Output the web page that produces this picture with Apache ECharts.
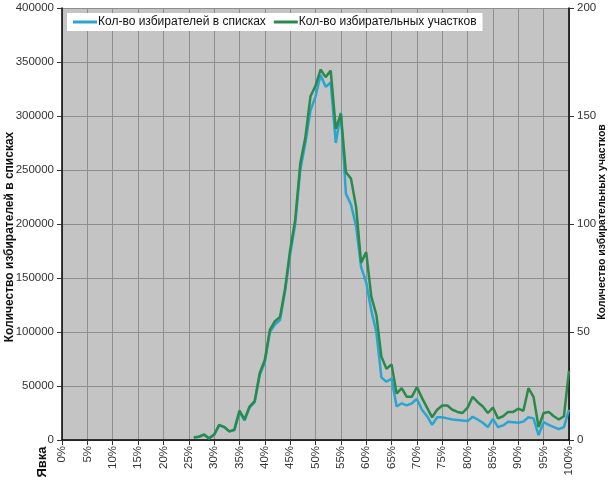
<!DOCTYPE html>
<html>
<head>
<meta charset="utf-8">
<script src="https://cdn.jsdelivr.net/npm/echarts@6/dist/echarts.min.js"></script>
<style>html,body{margin:0;padding:0;background:#fff}#c{width:609px;height:481px}</style>
</head>
<body>
<div id="c"></div>
<script>
// Turnout categories 0%..100%
const categories = [];
for (let i = 0; i <= 100; i++) categories.push(i + '%');

// Voters on lists (left axis), from 26% turnout upward
const votersStart = 26;
const voters = [
  2500, 3000, 5000, 1500, 4600, 13500, 12000, 8000, 9000, 26000,
  18000, 30000, 35000, 60000, 72000, 100000, 107000, 111000, 138000, 172000,
  200000, 250000, 275000, 305000, 318000, 338000, 327000, 331000, 275000, 303000,
  228000, 218000, 198000, 160000, 146000, 120000, 100000, 58000, 54000, 57000,
  31000, 34000, 32000, 34000, 38000, 28000, 22000, 14000, 21000, 21000,
  20000, 19000, 18500, 18000, 17500, 21500, 19000, 16000, 12000, 19500,
  12000, 13500, 17000, 16500, 16000, 17000, 21000, 20000, 4500, 16500,
  14000, 12000, 10000, 12000, 28000
];
// Polling stations (right axis)
const stations = [
  1.2, 1.5, 2.5, 0.8, 2.5, 7, 6, 4, 4.8, 13.6,
  9.5, 15.5, 18, 31, 37, 51, 55, 57, 70, 88,
  102, 128, 140, 159, 164, 171.5, 168, 171, 144, 151,
  124, 121, 108, 82, 87, 66.5, 58, 38.5, 33, 35,
  21.5, 24, 20, 20, 24.5, 19.5, 15, 10.5, 14, 16,
  16, 14, 13, 12.5, 15, 20, 17.5, 15.5, 12.5, 15,
  10, 11, 13, 13, 14.5, 13.5, 24, 20, 6, 12.5,
  13, 11, 9.5, 11, 32
];
const seriesNames = ['Кол-во избирателей в списках', 'Кол-во избирательных участков'];
const leftTitle = 'Количество избирателей в списках';
const rightTitle = 'Количество избирательных участков';
const xTitle = 'Явка';

function pad(arr, start) {
  const out = [];
  for (let i = 0; i < start; i++) out.push(null);
  return out.concat(arr);
}

const font = '"Liberation Sans", Arial, sans-serif';
function vText(text, x, y, size) {
  return {
    type: 'text', x: x, y: y, rotation: Math.PI / 2,
    style: {text: text, font: 'bold ' + size + 'px ' + font, fill: '#111', align: 'center', verticalAlign: 'middle'}
  };
}
const chart = echarts.init(document.getElementById('c'), null, {renderer: 'canvas'});
chart.setOption({
  animation: false,
  textStyle: {fontFamily: font},
  grid: {left: 62, right: 40, top: 8, bottom: 41, show: true, backgroundColor: '#c4c4c4', borderWidth: 0,
         containLabel: false, outerBoundsMode: 'none'},
  legend: {
    left: 67, top: 13,
    backgroundColor: '#ffffff',
    padding: [3, 6, 3, 6],
    icon: 'rect', itemWidth: 24, itemHeight: 3, itemGap: 8,
    textStyle: {fontFamily: font, fontSize: 12, color: '#111', padding: [0, 0, 0, -4]},
    data: seriesNames
  },
  xAxis: {
    type: 'category', data: categories, boundaryGap: false,
    axisLine: {lineStyle: {color: '#000', width: 1.5}},
    axisTick: {interval: 4, length: 5, lineStyle: {color: '#333'}},
    axisLabel: {interval: 4, rotate: 90, fontSize: 11.5, color: '#333', fontFamily: font, margin: 6},
    splitLine: {show: true, interval: 4, lineStyle: {color: '#8e8e8e', width: 1}}
  },
  yAxis: [{
    type: 'value', min: 0, max: 400000, interval: 50000,
    axisLine: {show: true, lineStyle: {color: '#000', width: 1.5}},
    axisTick: {show: true, length: 5, lineStyle: {color: '#333'}},
    axisLabel: {fontSize: 11.5, color: '#333', fontFamily: font, margin: 8, formatter: v => String(v)},
    splitLine: {show: true, lineStyle: {color: '#8e8e8e', width: 1}}
  }, {
    type: 'value', min: 0, max: 200, interval: 50, position: 'right',
    axisLine: {show: true, lineStyle: {color: '#000', width: 1.5}},
    axisTick: {show: true, length: 5, lineStyle: {color: '#333'}},
    axisLabel: {fontSize: 11.5, color: '#333', fontFamily: font, margin: 8, formatter: v => String(v)},
    splitLine: {show: false}
  }],
  graphic: [
    vText(leftTitle, 10, 237, 12),
    vText(rightTitle, 602, 222, 10.5),
    vText(xTitle, 42, 462, 13)
  ],
  series: [{
    name: seriesNames[0], type: 'line', yAxisIndex: 0, data: pad(voters, votersStart),
    showSymbol: false, symbol: 'none', lineStyle: {color: '#2aa5cf', width: 2.5}, itemStyle: {color: '#2aa5cf'}
  }, {
    name: seriesNames[1], type: 'line', yAxisIndex: 1, data: pad(stations, votersStart),
    showSymbol: false, symbol: 'none', lineStyle: {color: '#2a8a4c', width: 2.5}, itemStyle: {color: '#2a8a4c'}
  }]
});
</script>
</body>
</html>
